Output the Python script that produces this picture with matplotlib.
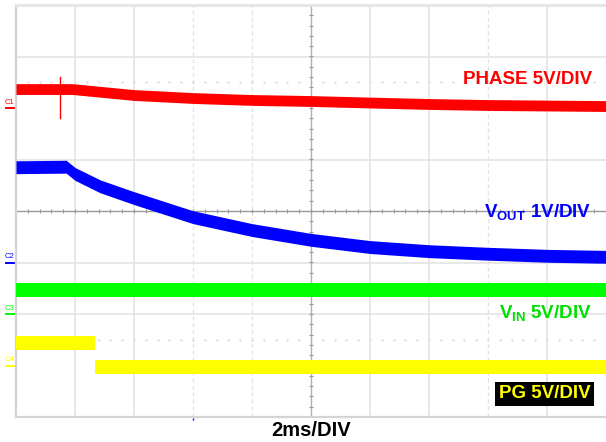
import matplotlib
matplotlib.use("Agg")
import matplotlib.pyplot as plt
import matplotlib.transforms as mtransforms
import numpy as np

plt.rcParams.update({
    "font.family": ["Liberation Sans", "DejaVu Sans"],
    "mathtext.fontset": "custom",
    "mathtext.rm": "Liberation Sans",
    "mathtext.bf": "Liberation Sans:bold",
    "mathtext.it": "Liberation Sans:italic",
})

# --- traces: time in ms, volts above each channel's ground marker ---
phase_t = [0, 1.9, 4, 6, 8, 10, 12, 14, 16, 18, 20]
phase_v = [1.84, 1.84, 1.26, 0.97, 0.78, 0.68, 0.53, 0.39, 0.29, 0.24, 0.19]
phase_spike_t = 1.49
phase_spike_v = [-0.97, 3.01]

vout_t = [0, 1.7, 2.0, 2.85, 4, 6, 8, 10, 12, 14, 16, 18, 20]
vout_v = [1.85, 1.86, 1.72, 1.48, 1.25, 0.88, 0.63, 0.44, 0.30, 0.22, 0.17, 0.13, 0.11]

vin_t = [0, 20]
vin_v = [2.33, 2.33]

pg_t = [0, 2.68, 2.68, 20]
pg_v = [2.18, 2.18, -0.15, -0.15]

# channel settings: V/div, ground marker (div from centre), colour, trace thickness (div)
ch_names = ["C1", "C2", "C3", "C4"]
ch_scale = [5, 1, 5, 5]
ch_ground = [2, -1, -2, -3]
ch_color = ["#ff0000", "#0000ff", "#00ff00", "#ffff00"]
ch_thick = [0.21, 0.25, 0.28, 0.28]

TIME_PER_DIV = 2.0  # ms

fig = plt.figure(figsize=(6.06, 4.42), dpi=100)
ax = fig.add_axes([16 / 606, 25 / 442, 590 / 606, 412 / 442])
ax.set_xlim(0, 10)
ax.set_ylim(-4, 4)
ax.set_xticks([])
ax.set_yticks([])
for s in ("top", "left", "bottom"):
    ax.spines[s].set_color("#d4d4d4")
    ax.spines[s].set_linewidth(1.6)
ax.spines["top"].set_color("#e6e6e6")
ax.spines["top"].set_linewidth(2.2)
ax.spines["right"].set_visible(False)

# graticule
grid_c = "#e2e2e2"
for x in (1, 2, 6, 7, 9):
    ax.axvline(x, color=grid_c, lw=1.1, zorder=0)
for x in (3, 4, 8):
    ax.axvline(x, color="#e4e4e4", lw=1.0, ls=(0, (3, 2)), zorder=0)
for y in (3, 1, -1, -2):
    ax.axhline(y, color=grid_c, lw=1.1, zorder=0)
dots = np.arange(0.2, 10, 0.2)
for y in (2.5, -2.5):
    ax.plot(dots, np.full_like(dots, y), ls="none", marker="s", ms=0.7,
            color="#dedede", zorder=0)
ax.axhline(0, color="#9a9a9a", lw=1.0, zorder=0)
ax.axvline(5, color="#b0b0b0", lw=1.0, zorder=0)
ax.plot(np.arange(0.2, 10, 0.2), np.zeros(49), ls="none", marker="|", ms=3,
        mew=0.8, color="#9a9a9a", zorder=0)
ax.plot(np.full(39, 5.0), np.arange(-3.8, 4, 0.2), ls="none", marker="_", ms=3,
        mew=0.8, color="#9a9a9a", zorder=0)

# traces as noise bands
traces = [(phase_t, phase_v), (vout_t, vout_v), (vin_t, vin_v), (pg_t, pg_v)]
for i, (t, v) in enumerate(traces):
    x = np.asarray(t) / TIME_PER_DIV
    y = ch_ground[i] + np.asarray(v) / ch_scale[i]
    h = ch_thick[i] / 2
    ax.fill_between(x, y - h, y + h, color=ch_color[i], lw=0, zorder=3)
ax.plot([phase_spike_t / TIME_PER_DIV] * 2,
        [ch_ground[0] + v / ch_scale[0] for v in phase_spike_v],
        color=ch_color[0], lw=1.0, zorder=3)

# ground markers on the left edge
blend = mtransforms.blended_transform_factory(fig.transFigure, ax.transData)
for name, g, c in zip(ch_names, ch_ground, ch_color):
    ax.plot([6 / 606, 14 / 606], [g, g], color=c, lw=1.4, transform=blend,
            clip_on=False)
    ax.text(10 / 606, g + 0.04, name, color=c, fontsize=5.5, ha="center",
            va="bottom", transform=blend, clip_on=False)

# channel labels
lab_kw = dict(fontsize=13.5, fontweight="bold", ha="right", zorder=5)
ax.text(9.76, 2.56, "PHASE 5V/DIV", color="#ff0000", va="center", **lab_kw)
ax.text(9.76, -0.12, r"V$_{\mathbf{OUT}}$ 1V/DIV", color="#0000ff",
        va="baseline", **lab_kw)
ax.text(9.76, -2.08, r"V$_{\mathbf{IN}}$ 5V/DIV", color="#00e000",
        va="baseline", **lab_kw)
ax.text(9.74, -3.55, "PG 5V/DIV", color="#ffff00", va="center",
        bbox=dict(boxstyle="square,pad=0.2", fc="black", ec="none"), **lab_kw)

ax.plot([3], [-4.04], marker="|", ms=2, color="#0000ff", clip_on=False)

fig.text(311 / 606, 1 - 430 / 442, "2ms/DIV", fontsize=14.5, fontweight="bold",
         ha="center", va="center")

fig.savefig("out.png", dpi=100, facecolor="white")
